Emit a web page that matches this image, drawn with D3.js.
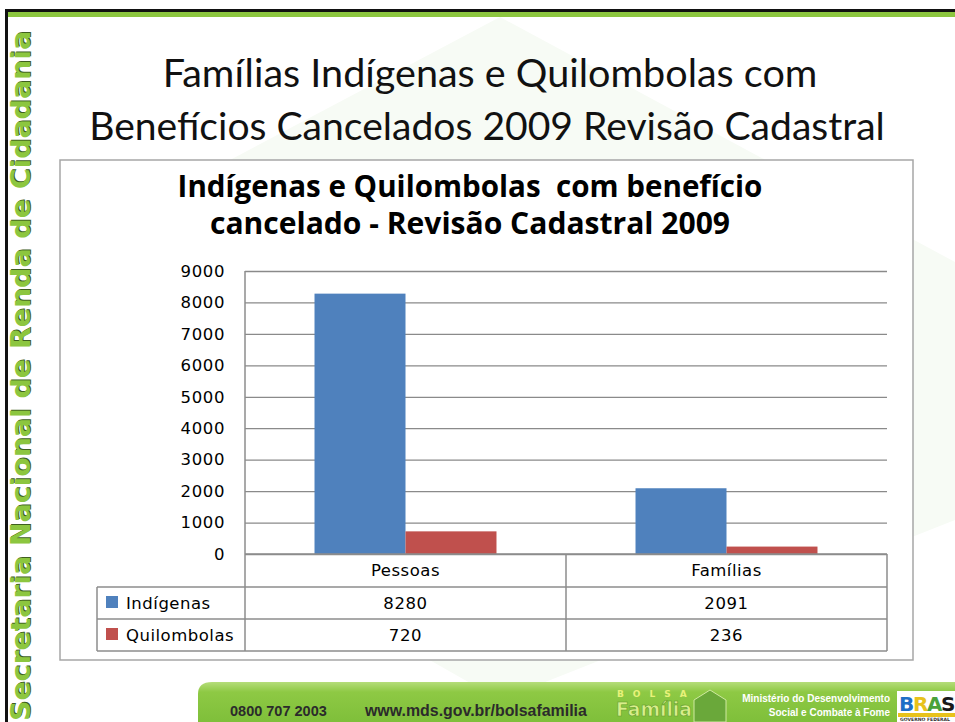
<!DOCTYPE html>
<html>
<head>
<meta charset="utf-8">
<script src="https://cdn.jsdelivr.net/npm/d3@7"></script>
<style>
  html, body { margin: 0; padding: 0; background: #ffffff; }
  svg { display: block; }
</style>
</head>
<body>
<svg id="chart" width="955" height="722"></svg>
<script>
// ---------- data ----------
const categories = ["Pessoas", "Famílias"];
const seriesNames = ["Indígenas", "Quilombolas"];
const indigenas = [8280, 2091];
const quilombolas = [720, 236];
const yTicks = [0, 1000, 2000, 3000, 4000, 5000, 6000, 7000, 8000, 9000];
const slideTitle = ["Famílias Indígenas e Quilombolas com", "Benefícios Cancelados 2009 Revisão Cadastral"];
const chartTitle = ["Indígenas e Quilombolas  com benefício", "cancelado - Revisão Cadastral 2009"];
const sideText = "Secretaria Nacional de Renda de Cidadania";

// ---------- styles ----------
const colors = ["#4f81bd", "#c0504d"];
const gridColor = "#8a8a8a";
const tableColor = "#8c8c8c";
const green = "#8cc63f";

const svg = d3.select("#chart");

function fitWidth(sel, target) {
  const node = sel.node();
  const fs = parseFloat(sel.attr("font-size"));
  const w = node.getComputedTextLength();
  sel.attr("font-size", (fs * target / w).toFixed(2));
}

// background
svg.append("rect").attr("width", 955).attr("height", 722).attr("fill", "#ffffff");
svg.append("polygon")
  .attr("points", "500,17 955,262 955,520 500,700 60,450 60,250")
  .attr("fill", "#f7fbf5");

// slide frame
svg.append("rect").attr("x", 5).attr("y", 9).attr("width", 950).attr("height", 3).attr("fill", "#111");
svg.append("rect").attr("x", 8).attr("y", 12).attr("width", 947).attr("height", 5).attr("fill", green);
svg.append("rect").attr("x", 5).attr("y", 9).attr("width", 3).attr("height", 713).attr("fill", "#111");

// side vertical text
const side = svg.append("g").attr("transform", "translate(30,721) rotate(-90)");
side.append("text")
  .attr("x", 1).attr("y", 1)
  .attr("font-family", "DejaVu Sans").attr("font-weight", "bold").attr("font-size", 27)
  .attr("textLength", 690).attr("lengthAdjust", "spacingAndGlyphs")
  .attr("fill", "#3f5f1f").text(sideText);
side.append("text")
  .attr("x", 0).attr("y", 0)
  .attr("font-family", "DejaVu Sans").attr("font-weight", "bold").attr("font-size", 27)
  .attr("textLength", 690).attr("lengthAdjust", "spacingAndGlyphs")
  .attr("fill", green).text(sideText);

// slide title
const t1 = svg.append("text").attr("x", 490).attr("y", 87).attr("text-anchor", "middle")
  .attr("font-family", "Lato").attr("font-size", 36).attr("fill", "#111").text(slideTitle[0]);
fitWidth(t1, 655);
const t2 = svg.append("text").attr("x", 487).attr("y", 140).attr("text-anchor", "middle")
  .attr("font-family", "Lato").attr("font-size", 36).attr("fill", "#111").text(slideTitle[1]);
fitWidth(t2, 796);

// chart box
svg.append("rect").attr("x", 60).attr("y", 160).attr("width", 853).attr("height", 500)
  .attr("fill", "#ffffff").attr("stroke", "#a6a6a6").attr("stroke-width", 1.5);

// chart title
const c1 = svg.append("text").attr("x", 470).attr("y", 197).attr("text-anchor", "middle")
  .attr("font-family", "Open Sans").attr("font-weight", "bold").attr("font-size", 24)
  .attr("fill", "#000").attr("xml:space", "preserve").style("white-space", "pre").text(chartTitle[0]);
fitWidth(c1, 585);
const c2 = svg.append("text").attr("x", 470).attr("y", 234).attr("text-anchor", "middle")
  .attr("font-family", "Open Sans").attr("font-weight", "bold").attr("font-size", 24)
  .attr("fill", "#000").text(chartTitle[1]);
fitWidth(c2, 520);

// scales
const plotL = 245, plotR = 887, plotT = 271, plotB = 554;
const x0 = d3.scaleBand().domain(categories).range([plotL, plotR]).paddingInner(0).paddingOuter(0);
const x1 = d3.scaleBand().domain(seriesNames).range([0, x0.bandwidth()]).paddingInner(0).paddingOuter(0.764);
const y = d3.scaleLinear().domain([0, 9000]).range([plotB, plotT]);

const tickFont = "DejaVu Sans";

// gridlines
const grid = svg.append("g").attr("transform", `translate(${plotL},0)`)
  .call(d3.axisLeft(y).tickValues(yTicks).tickSize(-(plotR - plotL)).tickFormat(""));
grid.select(".domain").remove();
grid.selectAll(".tick line").attr("stroke", gridColor).attr("stroke-width", 1.3);

// y labels
const yAxis = svg.append("g").attr("transform", `translate(${plotL},0)`)
  .call(d3.axisLeft(y).tickValues(yTicks).tickSize(0).tickPadding(20).tickFormat(d3.format("d")));
yAxis.select(".domain").remove();
yAxis.selectAll("text").attr("font-family", tickFont).attr("font-size", 16.5)
  .attr("fill", "#000").attr("letter-spacing", 0.6);

// bars
const seriesData = [indigenas, quilombolas];
const barGroups = svg.append("g").selectAll("g").data(categories).join("g")
  .attr("transform", d => `translate(${x0(d)},0)`);
barGroups.selectAll("rect")
  .data((c, ci) => seriesNames.map((s, si) => ({ s, si, v: seriesData[si][ci] })))
  .join("rect")
  .attr("x", d => x1(d.s))
  .attr("width", x1.bandwidth())
  .attr("y", d => y(d.v))
  .attr("height", d => y(0) - y(d.v))
  .attr("fill", d => colors[d.si]);

// data table
const rowH = [554, 587, 619, 651];
const tableL = 97;
const tbl = svg.append("g").attr("stroke", tableColor).attr("stroke-width", 1.5).attr("fill", "none");
tbl.append("line").attr("x1", plotL).attr("x2", plotR).attr("y1", rowH[0]).attr("y2", rowH[0]);
[1, 2, 3].forEach(i => tbl.append("line").attr("x1", tableL).attr("x2", plotR).attr("y1", rowH[i]).attr("y2", rowH[i]));
tbl.append("line").attr("x1", plotL).attr("x2", plotL).attr("y1", plotT).attr("y2", rowH[3]);
tbl.append("line").attr("x1", x0(categories[1])).attr("x2", x0(categories[1])).attr("y1", rowH[0]).attr("y2", rowH[3]);
tbl.append("line").attr("x1", plotR).attr("x2", plotR).attr("y1", rowH[0]).attr("y2", rowH[3]);
tbl.append("line").attr("x1", tableL).attr("x2", tableL).attr("y1", rowH[1]).attr("y2", rowH[3]);

// category labels
const xAxis = svg.append("g").attr("transform", `translate(0,${rowH[0]})`)
  .call(d3.axisBottom(x0).tickSize(0).tickPadding(10));
xAxis.select(".domain").remove();
xAxis.selectAll("text").attr("font-family", tickFont).attr("font-size", 16.5)
  .attr("fill", "#000").attr("letter-spacing", 0.5);

// value rows
seriesNames.forEach((s, si) => {
  const cy = (rowH[si + 1] + rowH[si + 2]) / 2;
  svg.append("rect").attr("x", 106).attr("y", cy - 7).attr("width", 12).attr("height", 12).attr("fill", colors[si]);
  svg.append("text").attr("x", 126).attr("y", cy).attr("dy", "0.35em")
    .attr("font-family", tickFont).attr("font-size", 16.5).attr("letter-spacing", 0.5)
    .attr("fill", "#000").text(s);
  categories.forEach((c, ci) => {
    svg.append("text").attr("x", x0(c) + x0.bandwidth() / 2).attr("y", cy).attr("dy", "0.35em")
      .attr("text-anchor", "middle")
      .attr("font-family", tickFont).attr("font-size", 16.5).attr("letter-spacing", 0.6)
      .attr("fill", "#000").text(seriesData[si][ci]);
  });
});

// footer
const defs = svg.append("defs");
const lg = defs.append("linearGradient").attr("id", "fg").attr("x1", 0).attr("y1", 0).attr("x2", 0).attr("y2", 1);
lg.append("stop").attr("offset", "0").attr("stop-color", "#b5dd7a");
lg.append("stop").attr("offset", "0.25").attr("stop-color", "#8ec944");
lg.append("stop").attr("offset", "1").attr("stop-color", "#7fbf3a");
svg.append("path")
  .attr("d", "M198,722 L198,694 Q198,682 212,682 L955,682 L955,722 Z")
  .attr("fill", "url(#fg)");
svg.append("text").attr("x", 230).attr("y", 716).attr("font-family", "Liberation Sans")
  .attr("font-weight", "bold").attr("font-size", 14.5).attr("fill", "#2b2b2b").text("0800 707 2003");
const url = svg.append("text").attr("x", 365).attr("y", 716).attr("font-family", "Liberation Sans")
  .attr("font-weight", "bold").attr("font-size", 16).attr("fill", "#2b2b2b").text("www.mds.gov.br/bolsafamilia");
fitWidth(url, 222);
// Bolsa Família logo (approximate, as text)
svg.append("text").attr("x", 617).attr("y", 697).attr("font-family", "DejaVu Sans").attr("font-weight", "bold")
  .attr("font-size", 9).attr("letter-spacing", 9).attr("fill", "#e8f27a").text("BOLSA");
svg.append("text").attr("x", 616).attr("y", 716).attr("font-family", "DejaVu Sans").attr("font-weight", "bold")
  .attr("font-size", 19).attr("fill", "#d8ee8a").attr("stroke", "#5f9a2a").attr("stroke-width", 0.6)
  .attr("textLength", 76).attr("lengthAdjust", "spacingAndGlyphs").text("Família");
svg.append("path").attr("d", "M694,722 L694,700 L710,690 L726,700 L726,722 Z").attr("fill", "#6aa83a").attr("stroke", "#cfe9a0").attr("stroke-width", 1);
svg.append("text").attr("x", 890).attr("y", 702).attr("text-anchor", "end").attr("font-family", "Liberation Sans")
  .attr("font-weight", "bold").attr("font-size", 10).attr("fill", "#ffffff").text("Ministério do Desenvolvimento");
svg.append("text").attr("x", 890).attr("y", 716).attr("text-anchor", "end").attr("font-family", "Liberation Sans")
  .attr("font-weight", "bold").attr("font-size", 10).attr("fill", "#ffffff").text("Social e Combate à Fome");
// BRASIL logo (approximate)
svg.append("rect").attr("x", 897).attr("y", 691).attr("width", 58).attr("height", 31).attr("fill", "#ffffff");
const brasil = ["B", "R", "A", "S"];
const bcol = ["#1f6fc6", "#e8c21a", "#4aa23a", "#1a1a1a"];
brasil.forEach((ch, i) => {
  svg.append("text").attr("x", 899 + i * 14).attr("y", 711).attr("font-family", "DejaVu Sans")
    .attr("font-weight", "bold").attr("font-size", 20).attr("fill", bcol[i]).text(ch);
});
svg.append("rect").attr("x", 898).attr("y", 713).attr("width", 57).attr("height", 4).attr("fill", "#e8c21a");
svg.append("text").attr("x", 900).attr("y", 721).attr("font-family", "DejaVu Sans")
  .attr("font-weight", "bold").attr("font-size", 4.5).attr("fill", "#333")
  .attr("textLength", 50).attr("lengthAdjust", "spacingAndGlyphs").text("GOVERNO FEDERAL");
</script>
</body>
</html>
